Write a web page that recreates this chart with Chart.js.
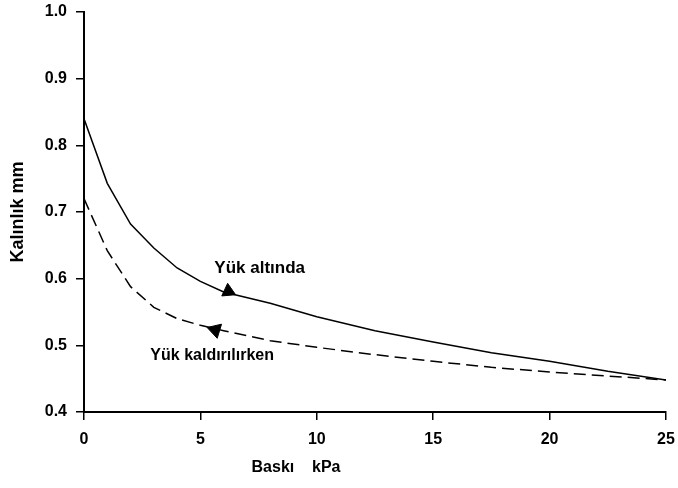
<!DOCTYPE html>
<html>
<head>
<meta charset="utf-8">
<script src="https://cdn.jsdelivr.net/npm/chart.js@4/dist/chart.umd.min.js"></script>
<style>
  html, body { margin: 0; padding: 0; background: #fff; }
  #wrap { width: 678px; height: 488px; }
</style>
</head>
<body>
<div id="wrap"><canvas id="c" width="678" height="488"></canvas></div>
<script>
// Pressure (kPa) and thickness (mm)
const pressure = [0, 1, 2, 3, 4, 5, 6, 8, 10, 12.5, 15, 17.5, 20, 22.5, 25];
const underLoad = [0.84, 0.743, 0.682, 0.646, 0.616, 0.596, 0.58, 0.563, 0.543, 0.522, 0.505, 0.489, 0.476, 0.461, 0.448];
const unloading = [0.72, 0.642, 0.588, 0.557, 0.54, 0.53, 0.522, 0.507, 0.497, 0.486, 0.476, 0.467, 0.460, 0.454, 0.448];

// Direction markers on each curve
const arrowLoad = { x: 6.2, y: 0.581 };
const arrowUnload = { x: 5.64, y: 0.523 };

const xTitle = 'Baskı    kPa';
const yTitle = 'Kalınlık mm';
const labelLoad = 'Yük altında';
const labelUnload = 'Yük kaldırılırken';

const FONT = '"Liberation Sans", Arial, sans-serif';

function pts(xs, ys) { return xs.map((x, i) => ({ x: x, y: ys[i] })); }

const textPlugin = {
  id: 'texts',
  afterDraw(chart) {
    const ctx = chart.ctx;
    const xs = chart.scales.x, ys = chart.scales.y;
    ctx.save();
    ctx.fillStyle = '#000';
    ctx.textBaseline = 'middle';
    ctx.textAlign = 'left';
    ctx.font = 'bold 17px ' + FONT;
    ctx.fillText(labelLoad, xs.getPixelForValue(5.6), ys.getPixelForValue(0.615));
    ctx.font = 'bold 16px ' + FONT;
    ctx.fillText(labelUnload, xs.getPixelForValue(2.85), ys.getPixelForValue(0.484));
    ctx.textAlign = 'center';
    ctx.fillText(xTitle, 296, 468);
    ctx.font = 'bold 18px ' + FONT;
    ctx.translate(18, (chart.chartArea.top + chart.chartArea.bottom) / 2);
    ctx.rotate(-Math.PI / 2);
    ctx.fillText(yTitle, 0, 0);
    ctx.restore();
  }
};

const axisStyle = {
  grid: { drawOnChartArea: false, drawTicks: true, tickLength: 8, color: '#000', lineWidth: 1.5 },
  border: { display: true, color: '#000', width: 2 }
};

new Chart(document.getElementById('c'), {
  type: 'line',
  data: {
    datasets: [
      { data: pts(pressure, underLoad), borderColor: '#000', borderWidth: 1.5, pointRadius: 0, tension: 0, fill: false },
      { data: pts(pressure, unloading), borderColor: '#000', borderWidth: 1.5, borderDash: [12, 6], pointRadius: 0, tension: 0, fill: false },
      { data: [arrowLoad], showLine: false, pointStyle: 'triangle', rotation: 115, pointRadius: 8, backgroundColor: '#000', borderColor: '#000', borderWidth: 1 },
      { data: [arrowUnload], showLine: false, pointStyle: 'triangle', rotation: 167, pointRadius: 8.5, backgroundColor: '#000', borderColor: '#000', borderWidth: 1 }
    ]
  },
  options: {
    responsive: false,
    animation: false,
    layout: { padding: { top: 12, right: 12, left: 0, bottom: 0 } },
    plugins: { legend: { display: false }, tooltip: { enabled: false } },
    scales: {
      x: {
        type: 'linear', min: 0, max: 25,
        ticks: { stepSize: 5, color: '#000', font: { family: FONT, size: 16, weight: 'bold' }, padding: 10, maxRotation: 0 },
        afterFit(s) { s.height = 76; s.paddingLeft = 0; s.paddingRight = 0; },
        ...axisStyle
      },
      y: {
        type: 'linear', min: 0.4, max: 1.0,
        ticks: { stepSize: 0.1, color: '#000', font: { family: FONT, size: 16, weight: 'bold' }, padding: 9,
                 callback: v => v.toFixed(1) },
        afterFit(s) { s.width = 84; s.paddingTop = 0; s.paddingBottom = 0; },
        ...axisStyle
      }
    }
  },
  plugins: [textPlugin]
});
</script>
</body>
</html>
